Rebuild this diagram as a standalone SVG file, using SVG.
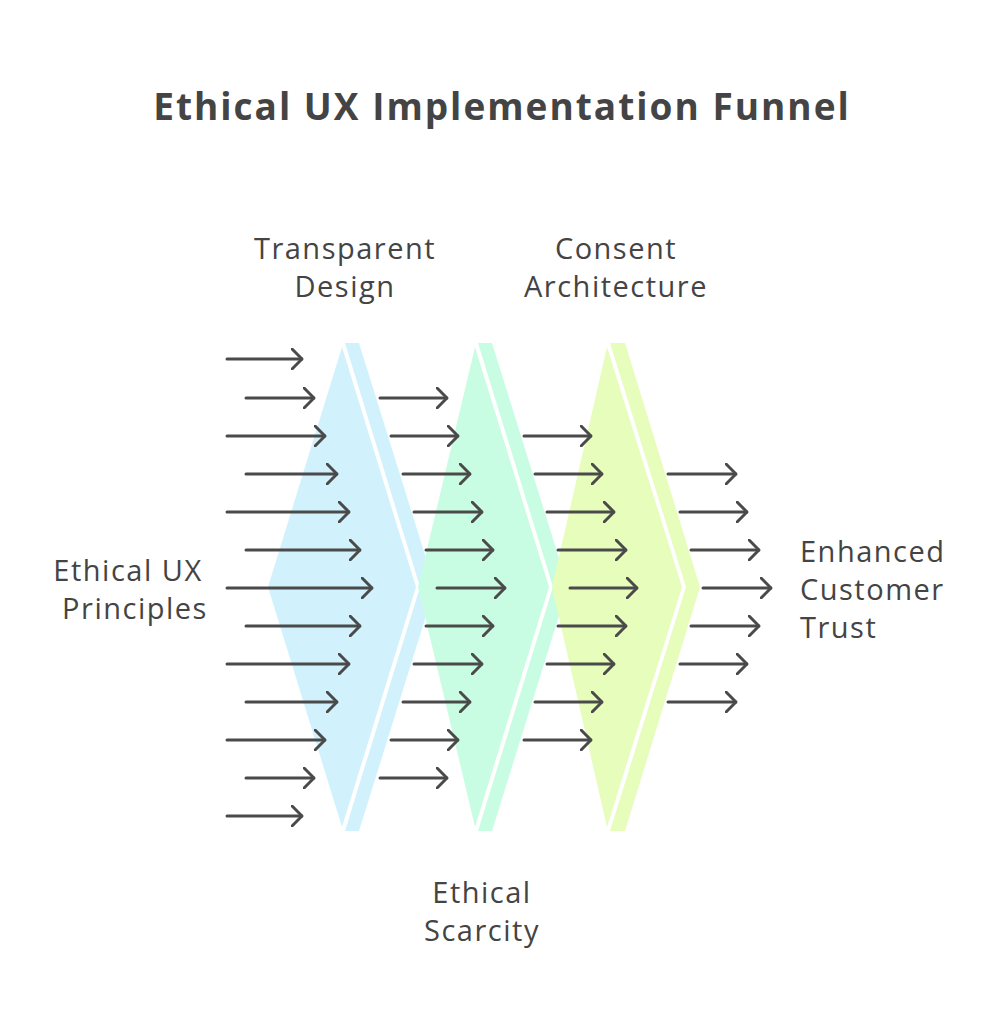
<svg xmlns="http://www.w3.org/2000/svg" width="1005" height="1024" viewBox="0 0 1005 1024">
<style>
.t{font-family:"Open Sans","Liberation Sans",sans-serif;fill:#444;font-size:29px;letter-spacing:1.5px;text-anchor:middle}
.a{stroke:#4a4a4a;stroke-width:3;fill:none;stroke-linecap:round;stroke-linejoin:round}
</style>
<defs><marker id="h" viewBox="0 0 12 22" refX="11" refY="11" markerWidth="12" markerHeight="22" markerUnits="userSpaceOnUse" orient="auto"><path d="M1 1L11 11L1 21" class="a"/></marker></defs>
<rect width="1005" height="1024" fill="#fff"/>
<text x="502" y="120" class="t" style="font-size:37px;font-weight:bold;letter-spacing:2px">Ethical UX Implementation Funnel</text>
<g id="stage1"><polygon points="342,347 416,587 342,827 268,587" fill="#d1f2fd"/><polygon points="345,343 359,343 435,587 359,831 345,831 420,587" fill="#d1f2fd"/></g>
<g id="stage2"><polygon points="475,347 549,587 475,827 418,587" fill="#c9fde3"/><polygon points="478,343 492,343 568,587 492,831 478,831 553,587" fill="#c9fde3"/></g>
<g id="stage3"><polygon points="607,347 682,587 607,827 552,587" fill="#e6fdbb"/><polygon points="610,343 625,343 700,587 625,831 610,831 686,587" fill="#e6fdbb"/></g>
<g id="connectors" class="a" marker-end="url(#h)">
<line x1="227" y1="359" x2="302" y2="359"/><line x1="246" y1="398" x2="314" y2="398"/><line x1="227" y1="436" x2="325" y2="436"/><line x1="246" y1="474" x2="337" y2="474"/><line x1="227" y1="512" x2="349" y2="512"/><line x1="246" y1="550" x2="360" y2="550"/><line x1="227" y1="588" x2="372" y2="588"/><line x1="246" y1="626" x2="360" y2="626"/><line x1="227" y1="664" x2="349" y2="664"/><line x1="246" y1="702" x2="337" y2="702"/><line x1="227" y1="740" x2="325" y2="740"/><line x1="246" y1="778" x2="314" y2="778"/><line x1="227" y1="816" x2="302" y2="816"/>
<line x1="380" y1="398" x2="447" y2="398"/><line x1="391" y1="436" x2="458" y2="436"/><line x1="403" y1="474" x2="470" y2="474"/><line x1="414" y1="512" x2="482" y2="512"/><line x1="426" y1="550" x2="493" y2="550"/><line x1="437" y1="588" x2="505" y2="588"/><line x1="426" y1="626" x2="493" y2="626"/><line x1="414" y1="664" x2="482" y2="664"/><line x1="403" y1="702" x2="470" y2="702"/><line x1="391" y1="740" x2="458" y2="740"/><line x1="380" y1="778" x2="447" y2="778"/>
<line x1="524" y1="436" x2="591" y2="436"/><line x1="535" y1="474" x2="602" y2="474"/><line x1="547" y1="512" x2="614" y2="512"/><line x1="558" y1="550" x2="626" y2="550"/><line x1="570" y1="588" x2="637" y2="588"/><line x1="558" y1="626" x2="626" y2="626"/><line x1="547" y1="664" x2="614" y2="664"/><line x1="535" y1="702" x2="602" y2="702"/><line x1="524" y1="740" x2="591" y2="740"/>
<line x1="668" y1="474" x2="736" y2="474"/><line x1="680" y1="512" x2="747" y2="512"/><line x1="691" y1="550" x2="759" y2="550"/><line x1="703" y1="588" x2="771" y2="588"/><line x1="691" y1="626" x2="759" y2="626"/><line x1="680" y1="664" x2="747" y2="664"/><line x1="668" y1="702" x2="736" y2="702"/>
</g>
<g id="labels">
<text class="t" x="345" y="259">Transparent</text><text class="t" x="345" y="297">Design</text>
<text class="t" x="616" y="259">Consent</text><text class="t" x="616" y="297">Architecture</text>
<text class="t" x="482" y="903">Ethical</text><text class="t" x="482" y="941">Scarcity</text>
<text class="t" x="128" y="581">Ethical UX</text><text class="t" x="135" y="619">Principles</text>
<text class="t" x="800" y="562" style="text-anchor:start">Enhanced</text><text class="t" x="800" y="600" style="text-anchor:start">Customer</text><text class="t" x="800" y="638" style="text-anchor:start">Trust</text>
</g>
</svg>
